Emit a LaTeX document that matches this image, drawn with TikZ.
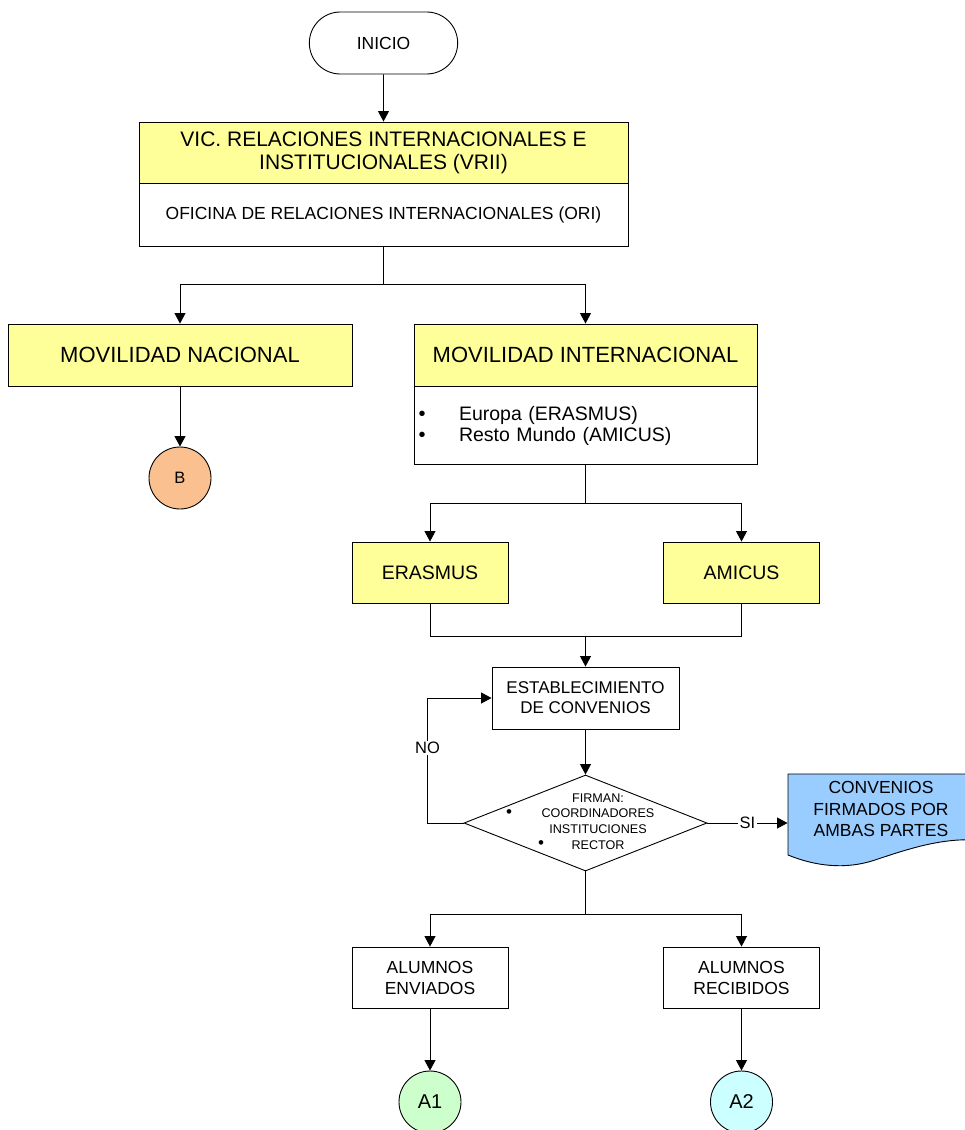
\documentclass[tikz,border=0pt]{standalone}
\usepackage{fontspec}
\setmainfont{Liberation Sans}
\usetikzlibrary{shapes.geometric, shapes.misc, arrows.meta, positioning, calc}
\definecolor{boxyellow}{RGB}{255, 255, 153}
\definecolor{peach}{RGB}{250, 192, 144}
\definecolor{mint}{RGB}{204, 255, 204}
\definecolor{paleblue}{RGB}{204, 255, 255}
\definecolor{docblue}{RGB}{153, 204, 255}
\newcommand{\fsz}[2]{\fontsize{#1}{#2}\selectfont}

\begin{document}
\begin{tikzpicture}[
  x=1pt, y=-1pt,
  line width=0.9pt,
  head/.style={rectangle, draw, fill=boxyellow, minimum height=62pt, align=center, inner sep=0pt},
  body/.style={rectangle, draw, fill=white, align=center, inner sep=0pt},
  plain/.style={rectangle, draw, fill=white, minimum width=156pt, minimum height=61pt,
                align=center, inner sep=0pt, font=\fsz{17.5}{21}},
  term/.style={rounded rectangle, draw, minimum width=155pt, minimum height=62pt, font=\fsz{17.5}{21}},
  decision/.style={diamond, draw, fill=white, minimum width=243pt, minimum height=96pt, inner sep=0pt},
  link/.style={circle, draw, minimum size=62pt, inner sep=0pt},
  dot/.style={inner sep=0pt, font=\fsz{20}{20}},
  tag/.style={fill=white, inner sep=1.5pt, font=\fsz{16.5}{20}},
  arrow/.style={-{Triangle[length=10.5pt, width=11pt]}}
]
  \useasboundingbox (0,0) rectangle (965,1130);

  \node[term] (inicio) at (383.5,43) {INICIO};
  \node[head, minimum width=489pt, minimum height=61pt, font=\fsz{21}{23}] (vrii) at (383.5,152.5)
    {VIC. RELACIONES INTERNACIONALES E\\INSTITUCIONALES (VRII)};
  \node[body, minimum width=489pt, minimum height=63pt, font=\fsz{17.5}{21}, below=0pt of vrii] (ori)
    {OFICINA DE RELACIONES INTERNACIONALES (ORI)};

  \node[head, minimum width=344pt, font=\fsz{22}{26}] (movnac) at (180,355) {MOVILIDAD NACIONAL};
  \node[head, minimum width=343pt, font=\fsz{22}{26}] (movint) at (585.5,355) {MOVILIDAD INTERNACIONAL};
  \node[body, minimum width=343pt, minimum height=78pt, text width=298pt, align=left,
        font=\fsz{19.5}{21}, below=0pt of movint] (movlist)
    {\hspace*{22.5pt}Europa (ERASMUS)\\\hspace*{22.5pt}Resto Mundo (AMICUS)};
  \node[dot] (listdot1) at (422,416) {\textbullet};
  \node[dot] (listdot2) at (422,437) {\textbullet};
  \node[link, fill=peach, font=\fsz{16.5}{20}] (nodeb) at (180,478) {B};

  \node[head, minimum width=156pt, minimum height=61pt, font=\fsz{19.5}{23}] (erasmus) at (430,572.5) {ERASMUS};
  \node[head, minimum width=156pt, minimum height=61pt, font=\fsz{19.5}{23}] (amicus) at (741.5,572.5) {AMICUS};
  \node[plain, minimum width=187pt, minimum height=62pt, font=\fsz{17}{20}] (estab) at (585.5,698)
    {ESTABLECIMIENTO\\DE CONVENIOS};

  % decision
  \node[decision] (firma) at (585.5,823) {};
  \node[align=center, font=\fsz{12.6}{15.7}] (firmantes) at (598,821.5)
    {FIRMAN:\\COORDINADORES\\INSTITUCIONES\\RECTOR};
  \node[dot, font=\fsz{17}{17}] (firmadot1) at (509,814) {\textbullet};
  \node[dot, font=\fsz{17}{17}] (firmadot2) at (541,845) {\textbullet};

  % document
  \draw[fill=docblue] (788,774) -- (975,774) -- (975,840)
    .. controls (940,838) and (905,850) .. (875,860)
    .. controls (845,870) and (815,866) .. (788,855) -- cycle;
  \node[align=center, font=\fsz{17.5}{21.5}, minimum width=186pt, minimum height=70pt] (conv) at (881,809)
    {CONVENIOS\\FIRMADOS POR\\AMBAS PARTES};

  \node[plain] (alenv) at (430,977.5) {ALUMNOS\\ENVIADOS};
  \node[plain] (alrec) at (741.5,977.5) {ALUMNOS\\RECIBIDOS};
  \node[link, fill=mint, font=\fsz{20}{24}] (enla1) at (430,1102) {A1};
  \node[link, fill=paleblue, font=\fsz{20}{24}] (enla2) at (741.5,1102) {A2};

  \draw[arrow] (inicio) -- (vrii);
  \draw[arrow] (ori.south) -- ++(0,37) -| (movnac);
  \draw[arrow] (ori.south) -- ++(0,37) -| (movint);
  \draw[arrow] (movnac) -- (nodeb);
  \draw[arrow] (movlist.south) -- ++(0,38) -| (erasmus);
  \draw[arrow] (movlist.south) -- ++(0,38) -| (amicus);
  \draw (erasmus.south) |- ($(amicus.south)+(0,33)$) -- (amicus.south);
  \draw[arrow] (estab.north) ++(0,-31) -- (estab.north);
  \draw[arrow] (estab) -- (firma);
  \draw[arrow] (firma.west) -- ++(-36,0) |- (estab.west) node[tag, pos=0.3] {NO};
  \draw[arrow] (firma.east) -- (firma.east -| conv.west) node[tag, midway] {SI};
  \draw[arrow] (firma.south) -- ++(0,43) -| (alenv);
  \draw[arrow] (firma.south) -- ++(0,43) -| (alrec);
  \draw[arrow] (alenv) -- (enla1);
  \draw[arrow] (alrec) -- (enla2);
\end{tikzpicture}
\end{document}
